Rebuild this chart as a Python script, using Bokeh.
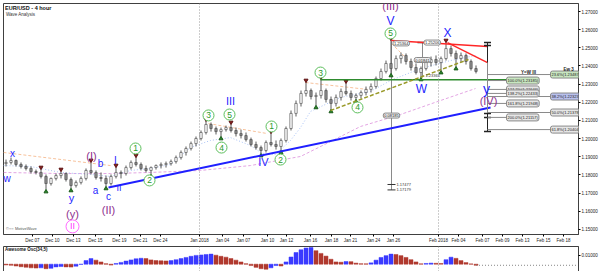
import numpy as np
from bokeh.plotting import figure
from bokeh.models import Range1d, FixedTicker, NumeralTickFormatter, Label, ColumnDataSource, Span
from bokeh.layouts import column
from bokeh.embed import file_html
from bokeh.resources import INLINE
from bokeh.core.properties import value

FONT_NAME = "Liberation Sans"
FONT = value(FONT_NAME)

# ---------------- x axis (bar index, two 12h bars per trading day) ----------------
tick_pos = [5.3, 9.3, 13.5, 17.9, 22.7, 26.9, 30.9, 38.7, 43.3, 47.5, 52.3, 56.1,
            60.9, 65.1, 68.9, 73.5, 77.5, 86.5, 90.5, 95.3, 99.3, 103.3, 107.5, 111.5]
tick_labels = ["Dec 07", "Dec 10", "Dec 13", "Dec 15", "Dec 19", "Dec 21", "Dec 24", "Jan 2018",
               "Jan 04", "Jan 07", "Jan 10", "Jan 12", "Jan 16", "Jan 18", "Jan 21", "Jan 24",
               "Jan 26", "Feb 2018", "Feb 04", "Feb 07", "Feb 09", "Feb 13", "Feb 15", "Feb 18"]
month_starts = [38.7, 86.5]
price_ticks = [1.15, 1.16, 1.17, 1.18, 1.19, 1.20, 1.21, 1.22, 1.23, 1.24, 1.25, 1.26, 1.27]

# ---------------- EUR/USD candles ----------------
first_open = 1.1863
high = [1.1885, 1.1896, 1.1885, 1.1869, 1.1858, 1.1847, 1.1830, 1.1830, 1.1803, 1.1786,
        1.1808, 1.1819, 1.1814, 1.1786, 1.1770, 1.1792, 1.1836, 1.1869, 1.1825, 1.1814,
        1.1797, 1.1803, 1.1841, 1.1825, 1.1852, 1.1880, 1.1896, 1.1869, 1.1852, 1.1847,
        1.1858, 1.1869, 1.1874, 1.1885, 1.1907, 1.1935, 1.1957, 1.1984, 1.2012, 1.2045,
        1.2095, 1.2089, 1.2067, 1.2061, 1.2072, 1.2078, 1.2061, 1.2050, 1.2034, 1.2006,
        1.1984, 1.1962, 1.1990, 1.2028, 1.1990, 1.2001, 1.2067, 1.2155, 1.2210, 1.2265,
        1.2309, 1.2276, 1.2254, 1.2326, 1.2276, 1.2232, 1.2243, 1.2276, 1.2304, 1.2265,
        1.2249, 1.2265, 1.2287, 1.2304, 1.2342, 1.2386, 1.2430, 1.2540, 1.2458, 1.2474,
        1.2469, 1.2441, 1.2414, 1.2397, 1.2430, 1.2452, 1.2458, 1.2452, 1.2529, 1.2513,
        1.2485, 1.2474, 1.2469, 1.2436, 1.2403]
low = [1.1847, 1.1858, 1.1847, 1.1836, 1.1825, 1.1808, 1.1803, 1.1781, 1.1720, 1.1742,
       1.1770, 1.1781, 1.1764, 1.1726, 1.1731, 1.1748, 1.1770, 1.1803, 1.1775, 1.1764,
       1.1737, 1.1742, 1.1781, 1.1781, 1.1797, 1.1830, 1.1847, 1.1825, 1.1814, 1.1803,
       1.1830, 1.1836, 1.1841, 1.1852, 1.1863, 1.1885, 1.1907, 1.1935, 1.1957, 1.1990,
       1.2023, 1.2039, 1.2023, 1.2012, 1.2039, 1.2034, 1.2012, 1.2001, 1.1984, 1.1957,
       1.1940, 1.1918, 1.1924, 1.1957, 1.1940, 1.1935, 1.1979, 1.2045, 1.2122, 1.2177,
       1.2232, 1.2216, 1.2183, 1.2221, 1.2199, 1.2161, 1.2177, 1.2210, 1.2238, 1.2210,
       1.2216, 1.2221, 1.2238, 1.2254, 1.2276, 1.2320, 1.2359, 1.2359, 1.2375, 1.2414,
       1.2408, 1.2375, 1.2353, 1.2337, 1.2375, 1.2397, 1.2403, 1.2375, 1.2430, 1.2452,
       1.2397, 1.2419, 1.2408, 1.2375, 1.2359]
close = [1.1869, 1.1880, 1.1858, 1.1847, 1.1836, 1.1819, 1.1814, 1.1792, 1.1753, 1.1781,
         1.1797, 1.1808, 1.1775, 1.1742, 1.1759, 1.1781, 1.1825, 1.1814, 1.1786, 1.1781,
         1.1753, 1.1792, 1.1814, 1.1808, 1.1841, 1.1869, 1.1858, 1.1836, 1.1825, 1.1841,
         1.1852, 1.1858, 1.1863, 1.1874, 1.1896, 1.1924, 1.1946, 1.1973, 1.2001, 1.2034,
         1.2078, 1.2056, 1.2039, 1.2050, 1.2061, 1.2045, 1.2028, 1.2017, 1.1995, 1.1968,
         1.1951, 1.1935, 1.1979, 1.1968, 1.1957, 1.1990, 1.2056, 1.2139, 1.2194, 1.2249,
         1.2265, 1.2232, 1.2238, 1.2265, 1.2216, 1.2194, 1.2227, 1.2260, 1.2249, 1.2227,
         1.2238, 1.2254, 1.2271, 1.2287, 1.2331, 1.2370, 1.2414, 1.2386, 1.2441, 1.2458,
         1.2425, 1.2392, 1.2364, 1.2386, 1.2419, 1.2436, 1.2419, 1.2441, 1.2496, 1.2469,
         1.2441, 1.2458, 1.2425, 1.2386, 1.2370]

# Awesome Oscillator (34,5), one value per bar
ao = [-0.0008, -0.0012, -0.0020, -0.0028, -0.0034, -0.0040, -0.0043, -0.0040, -0.0050, -0.0046,
      -0.0030, -0.0026, -0.0030, -0.0032, -0.0022, -0.0002, 0.0040, 0.0062, 0.0045, 0.0025,
      0.0005, -0.0010, 0.0008, 0.0020, 0.0035, 0.0048, 0.0060, 0.0066, 0.0062, 0.0048,
      0.0040, 0.0038, 0.0036, 0.0040, 0.0050, 0.0062, 0.0075, 0.0088, 0.0098, 0.0103,
      0.0108, 0.0112, 0.0100, 0.0088, 0.0078, 0.0062, 0.0045, 0.0025, 0.0005, -0.0015,
      -0.0035, -0.0050, -0.0056, -0.0040, -0.0015, -0.0020, 0.0025, 0.0080, 0.0130, 0.0160,
      0.0180, 0.0185, 0.0150, 0.0120, 0.0090, 0.0055, 0.0025, 0.0022, 0.0030, 0.0028,
      0.0012, 0.0005, 0.0004, 0.0015, 0.0045, 0.0075, 0.0095, 0.0112, 0.0108, 0.0095,
      0.0075, 0.0050, 0.0025, 0.0004, 0.0008, 0.0012, 0.0010, 0.0008, 0.0050, 0.0078,
      0.0065, 0.0040, 0.0018, 0.0003, -0.0012]

# swing markers (bar indices)
peaks = [7, 11, 17, 22, 26, 40, 45, 53, 60, 63, 68, 77, 88]
troughs = [8, 13, 20, 29, 43, 51, 55, 62, 65, 70, 77, 83, 87, 90]

# ---------------- wave labels ----------------
blue_text = ["x", "w", "y", "a", "b", "c", "I", "II", "III", "IV", "V", "W", "X", "y"]
blue_x = [1.3, 0.2, 13.1, 17.9, 18.9, 20.5, 21.9, 22.6, 44.9, 51.5, 76.9, 83.1, 88.3, 96.1]
blue_y = [1.1918, 1.1781, 1.1671, 1.1715, 1.1863, 1.1682, 1.1880, 1.1731, 1.2210, 1.1869,
          1.2650, 1.2276, 1.2579, 1.2276]
blue_size = ["10px", "10px", "11px", "10px", "10px", "10px", "10px", "9px", "11px", "11px",
             "12px", "12px", "12px", "14px"]

purple_text = ["(I)", "(y)", "(II)", "(III)", "(IV)"]
purple_x = [17.1, 13.3, 20.5, 76.9, 96.5]
purple_y = [1.1907, 1.1588, 1.1610, 1.2728, 1.2205]

green_text = ["1", "2", "3", "4", "5", "1", "2", "3", "4", "5"]
green_x = [25.9, 28.7, 40.5, 43.1, 44.7, 53.1, 54.9, 62.9, 70.3, 76.9]
green_y = [1.1946, 1.1770, 1.2128, 1.1951, 1.2133, 1.2067, 1.1885, 1.2364, 1.2172, 1.2579]

pink_text = ["II"]
pink_x = [13.3]
pink_y = [1.1517]

# ---------------- drawn lines ----------------
trend_x, trend_y = [20.5, 96.9], [1.1731, 1.2172]
red1_x, red1_y = [77.1, 96.3], [1.2540, 1.2507]
red2_x, red2_y = [88.3, 96.3], [1.2529, 1.2419]
olive_x, olive_y = [64.9, 92.5], [1.2155, 1.2436]
level_x, level_y = [62.9, 100.1], [1.2324, 1.2324]
peach_x = [[-0.5, 20.9], [40.5, 52.3], [59.9, 72.3], [77.1, 81.5]]
peach_y = [[1.1924, 1.1852], [1.2083, 1.2028], [1.2309, 1.2271], [1.2524, 1.2403]]
ma_fast_x = [-0.5, 4.9, 10.9, 16.9, 20.9, 24.9, 28.9, 32.9, 36.9, 40.9, 44.9, 48.9, 51.3, 53.9,
             56.9, 58.9, 60.9, 66.9, 72.9, 76.9, 82.9, 88.9, 93.9]
ma_fast_y = [1.1852, 1.1847, 1.1814, 1.1803, 1.1792, 1.1825, 1.1836, 1.1858, 1.1952, 1.1990,
             1.2006, 1.1962, 1.1918, 1.1912, 1.1990, 1.2061, 1.2150, 1.2227, 1.2260, 1.2320,
             1.2386, 1.2430, 1.2458]
ma_slow_x = [-0.5, 10.9, 20.9, 28.9, 38.9, 48.9, 58.9, 64.9, 70.9, 78.9, 86.9, 93.9]
ma_slow_y = [1.1814, 1.1808, 1.1808, 1.1814, 1.1825, 1.1852, 1.1902, 1.1984, 1.2067, 1.2133,
             1.2210, 1.2276]

# fibonacci boxes
fib_left_text = ["100.0%(1.23185)", "127.2%(1.22646)", "138.2%(1.22433)", "161.8%(1.21948)", "200.0%(1.21157)"]
fib_left_y = [1.2320, 1.2271, 1.2249, 1.2194, 1.2117]
fib_right_text = ["23.6%(1.23487)", "38.2%(1.22323)", "50.0%(1.21378)", "61.8%(1.20404)"]
fib_right_y = [1.2353, 1.2232, 1.2144, 1.2050]
fib_right_fill = ["#c8e6c0", "#b8c0ee", "#e6e6e6", "#e6e6e6"]

# measurement tools
tool1_x, tool1_top, tool1_bot = 77.1, 1.25364, 1.17179
tool1_texts = ["1.25364", "0.08185", "1.17477", "1.17179"]
tool2_x, tool2_top, tool2_bot = 83.3, 1.2529, 1.2337
tool2_texts = ["1.25206", "0.01841", "1.23365"]

# ================= build =================
n = len(close)
x = np.arange(n)
high = np.array(high); low = np.array(low); close = np.array(close)
open_ = np.array([first_open] + list(close[:-1]))

p = figure(frame_width=575, frame_height=231,
           x_range=Range1d(-0.5, 114.5), y_range=Range1d(1.147246, 1.274404),
           x_axis_location="below", y_axis_location="right",
           output_backend="svg", toolbar_location=None,
           min_border_left=3, min_border_top=3, min_border_bottom=9, min_border_right=1,
           background_fill_color="white", border_fill_color="white")
p.grid.visible = False
p.outline_line_color = "#404040"
p.outline_line_width = 1

def style_axis(a):
    a.major_label_text_font_size = "4.5px"
    a.major_label_text_font = FONT_NAME
    a.major_label_text_color = "#222222"
    a.major_label_standoff = 1
    a.major_tick_out = 2
    a.major_tick_in = 0
    a.minor_tick_line_color = None
    a.axis_line_color = "#404040"

xa = p.xaxis[0]
xa.ticker = FixedTicker(ticks=tick_pos)
xa.major_label_overrides = {t: l for t, l in zip(tick_pos, tick_labels)}
style_axis(xa)

ya = p.yaxis[0]
ya.ticker = FixedTicker(ticks=price_ticks)
ya.formatter = NumeralTickFormatter(format="0.00000")
style_axis(ya)

for m in month_starts:
    p.add_layout(Span(location=m, dimension="height", line_color="#9a9a9a", line_dash="1 2", line_width=1))

# moving averages and channel lines (behind candles)
p.line(ma_slow_x, ma_slow_y, line_color="#e3a6e3", line_dash="3 2", line_width=1)
p.line(ma_fast_x, ma_fast_y, line_color="#a9c2f5", line_dash="1 2", line_width=1)
for xs, ys in zip(peach_x, peach_y):
    p.line(xs, ys, line_color="#f7c29c", line_dash="3 2", line_width=1)

# measurement tools (gray)
p.segment([tool1_x], [tool1_top], [tool1_x], [tool1_bot], line_color="#8a8a8a", line_width=1)
p.segment([tool1_x - 0.8, tool1_x - 0.8], [1.17477, tool1_bot], [tool1_x + 0.8, tool1_x + 0.8],
          [1.17477, tool1_bot], line_color="#333333", line_width=1)
p.segment([tool2_x], [tool2_top], [tool2_x], [tool2_bot], line_color="#8a8a8a", line_width=1)
p.segment([tool2_x - 1.0], [tool2_top], [tool2_x + 1.0], [tool2_top], line_color="#333333", line_width=1.5)

# candles
src = ColumnDataSource(dict(
    x=x, h=high, l=low,
    top=np.maximum(open_, close), bot=np.minimum(open_, close),
    fill=["#ffffff" if c >= o else "#8c8c8c" for o, c in zip(open_, close)]))
p.segment("x", "h", "x", "l", source=src, line_color="#5a5a5a", line_width=1)
p.vbar(x="x", width=0.48, top="top", bottom="bot", fill_color="fill",
       line_color="#444444", line_width=0.6, source=src)

# swing markers
pk = np.array(peaks); tr = np.array(troughs)
p.scatter(pk, high[pk] + 0.0012, marker="inverted_triangle", size=4,
          fill_color="#8b2323", line_color="#5a1010")
p.scatter(tr, low[tr] - 0.0012, marker="triangle", size=4,
          fill_color="#2e8b2e", line_color="#1a5a1a")

# trend / channel lines
p.line(level_x, level_y, line_color="#2e8b2e", line_width=1.5)
p.line(olive_x, olive_y, line_color="#9a9a2a", line_dash="4 2", line_width=1.5)
p.line(trend_x, trend_y, line_color="#1f1fff", line_width=2)
p.line(red1_x, red1_y, line_color="#ff2626", line_width=1.5)
p.line(red2_x, red2_y, line_color="#ff2626", line_width=1.5)

# target column at the right
tx = 96.3
p.segment([tx], [1.2419], [tx], [1.2050], line_color="#8a8a8a", line_width=1)
p.segment([tx], [1.2529], [tx], [1.2419], line_color="#222222", line_width=1)
p.segment([tx], [1.2139], [tx], [1.2039], line_color="#222222", line_width=1)
caps = [1.2529, 1.2513, 1.2139, 1.2117, 1.2039]
p.segment([tx - 0.7] * len(caps), caps, [tx + 0.7] * len(caps), caps, line_color="#222222", line_width=1.5)
p.segment([tx] * len(fib_left_y), fib_left_y, [100.1] * len(fib_left_y), fib_left_y,
          line_color="#8a8a8a", line_width=1)
p.segment([tx] * len(fib_right_y), fib_right_y, [108.9] * len(fib_right_y), fib_right_y,
          line_color="#8a8a8a", line_width=1)

def box(xv, yv, text, fill="#e6e6e6", align="left", size="4px"):
    p.add_layout(Label(x=xv, y=yv, text=text, text_font=FONT_NAME, text_font_size=size,
                       text_color="#222222", text_align=align, text_baseline="middle",
                       background_fill_color=fill, border_line_color="#8a8a8a",
                       padding=1, border_radius=2))

for t, yv in zip(fib_left_text, fib_left_y):
    box(100.1, yv, t, fill="#c8e6c0" if t.startswith("100.0") else "#e6e6e6")
for t, yv, f in zip(fib_right_text, fib_right_y, fib_right_fill):
    box(108.9, yv, t, fill=f)
p.add_layout(Label(x=103.0, y=1.2353, text="Y=W III", text_font=FONT_NAME, text_font_size="4.5px",
                   text_font_style="bold", text_color="#222222", text_baseline="bottom"))
p.add_layout(Label(x=111.5, y=1.2368, text="Ew 3", text_font=FONT_NAME, text_font_size="4.5px",
                   text_font_style="bold", text_color="#222222", text_baseline="bottom"))

# measurement tool texts
box(tool1_x + 0.3, tool1_top - 0.0012, tool1_texts[0], fill="white")
box(tool1_x, (tool1_top + tool1_bot) / 2, tool1_texts[1], fill="#eeeeee", align="center")
p.add_layout(Label(x=tool1_x + 1.0, y=1.17477, text=tool1_texts[2], text_font=FONT_NAME, text_font_size="4px",
                   text_color="#333333", text_baseline="middle"))
p.add_layout(Label(x=tool1_x + 1.0, y=tool1_bot, text=tool1_texts[3], text_font=FONT_NAME, text_font_size="4px",
                   text_color="#333333", text_baseline="middle"))
box(tool2_x + 0.3, tool2_top, tool2_texts[0], fill="white")
box(tool2_x, (tool2_top + tool2_bot) / 2, tool2_texts[1], fill="#eeeeee", align="center")
p.add_layout(Label(x=tool2_x + 0.6, y=tool2_bot + 0.001, text=tool2_texts[2], text_font=FONT_NAME,
                   text_font_size="4px", text_color="#333333", text_baseline="middle"))

# wave labels
p.text(blue_x, blue_y, text=blue_text, text_color="#1f1fff", text_font=FONT,
       text_font_size=blue_size, text_align="center", text_baseline="middle")
p.text(purple_x, purple_y, text=purple_text, text_color="#8e2f8e", text_font=FONT,
       text_font_size="11px", text_align="center", text_baseline="middle")
p.scatter(green_x, green_y, marker="circle", size=11, fill_color="white", line_color="#5cbf5c", line_width=1)
p.text(green_x, green_y, text=green_text, text_color="#2a9a2a", text_font=FONT,
       text_font_size="8.5px", text_align="center", text_baseline="middle")
p.scatter(pink_x, pink_y, marker="circle", size=13, fill_color="white", line_color="#ff6bff", line_width=1)
p.text(pink_x, pink_y, text=pink_text, text_color="#ff33ff", text_font=FONT,
       text_font_size="9px", text_align="center", text_baseline="middle")

# titles
p.add_layout(Label(x=-0.2, y=1.2738, text="EUR/USD - 4 hour", text_font=FONT_NAME, text_font_size="5.5px",
                   text_font_style="bold", text_color="#111111", text_baseline="top"))
p.add_layout(Label(x=0.0, y=1.2695, text="Wave Analysis", text_font=FONT_NAME, text_font_size="4.5px",
                   text_color="#333333", text_baseline="top"))
p.add_layout(Label(x=0.0, y=1.1490, text="©○○ MotiveWave", text_font=FONT_NAME, text_font_size="4px",
                   text_color="#555555", text_baseline="bottom"))

# ---------------- Awesome oscillator panel ----------------
p2 = figure(frame_width=575, frame_height=25, x_range=p.x_range, y_range=Range1d(-0.00811, 0.01967),
            x_axis_location=None, y_axis_location="right",
            output_backend="svg", toolbar_location=None,
            min_border_left=3, min_border_top=1, min_border_bottom=2, min_border_right=1,
            background_fill_color="white", border_fill_color="white")
p2.grid.visible = False
p2.outline_line_color = "#404040"
ya2 = p2.yaxis[0]
ya2.ticker = FixedTicker(ticks=[0.01])
ya2.formatter = NumeralTickFormatter(format="0.00000")
style_axis(ya2)

for m in month_starts:
    p2.add_layout(Span(location=m, dimension="height", line_color="#9a9a9a", line_dash="1 2", line_width=1))

ao_arr = np.array(ao)
ao_col = ["#3a3aff" if i > 0 and ao_arr[i] > ao_arr[i - 1] else "#b0392e" for i in range(n)]
p2.vbar(x=x, width=0.8, top=ao_arr, bottom=0, fill_color=ao_col, line_color=ao_col, line_width=0.5)
p2.segment([n - 1], [ao_arr[-1]], [114.5], [ao_arr[-1]], line_color="#888888", line_dash="1 2", line_width=1)
p2.add_layout(Label(x=-0.2, y=0.0190, text="Awesome Osc(34,5)", text_font=FONT_NAME, text_font_size="4.5px",
                    text_font_style="bold", text_color="#111111", text_baseline="top"))

layout = column(p, p2, spacing=0)
open("out.html", "w").write(file_html(layout, INLINE))
